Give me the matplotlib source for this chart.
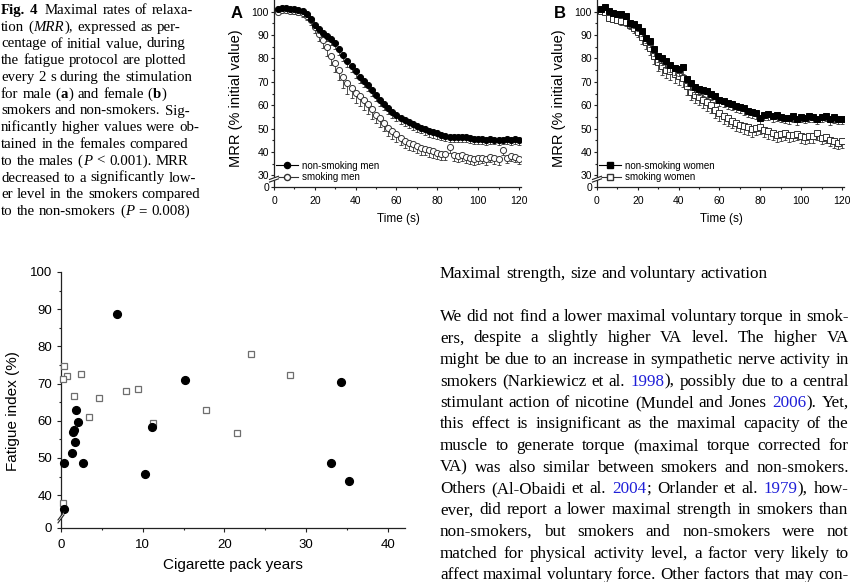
import re
import numpy as np
import matplotlib
matplotlib.use("Agg")
import matplotlib.pyplot as plt
from matplotlib.lines import Line2D
from matplotlib.patches import Polygon
from matplotlib.transforms import IdentityTransform

SANS = "Liberation Sans"
SERIF = "Liberation Serif"
BLUE = "#1f1fd8"
plt.rcParams["font.family"] = [SANS, "DejaVu Sans"]

# ---- Fig. 4 data: MRR (% initial value), sampled every 2 s ----
time_s = list(range(2, 121, 2))

mrr_nonsmoking_men = [
    101.0, 101.5, 101.5, 101.2, 101.0, 100.8, 100.5, 99.0, 97.0, 94.5,
    92.5, 91.0, 89.5, 88.2, 86.5, 84.0, 81.5, 79.0, 76.8, 74.5,
    72.2, 70.5, 68.8, 66.7, 64.3, 62.4, 60.6, 58.9, 57.2, 55.8,
    54.6, 53.6, 52.7, 51.8, 51.0, 50.3, 49.6, 48.9, 48.4, 47.9,
    47.4, 47.0, 46.6, 46.5, 46.5, 46.3, 46.4, 46.0, 45.5, 45.4,
    45.7, 45.2, 45.6, 45.3, 45.1, 45.2, 45.4, 45.0, 45.5, 45.0]
err_nonsmoking_men = [
    0.4, 0.5, 0.6, 0.7, 0.8, 0.9, 1.0, 1.2, 1.4, 1.6,
    1.8, 2.0, 2.2, 2.4, 2.5, 2.6, 2.7, 2.8, 2.8, 2.8,
    2.8, 2.8, 2.8, 2.8, 2.7, 2.7, 2.7, 2.6, 2.6, 2.6,
    2.5, 2.5, 2.5, 2.5, 2.4, 2.4, 2.4, 2.4, 2.3, 2.3,
    2.3, 2.3, 2.2, 2.2, 2.2, 2.2, 2.2, 2.1, 2.1, 2.1,
    2.1, 2.1, 2.1, 2.0, 2.0, 2.0, 2.0, 2.0, 2.0, 2.0]
mrr_smoking_men = [
    99.8, 100.6, 100.8, 100.5, 100.2, 99.8, 99.3, 98.3, 96.5, 93.5,
    90.5, 88.0, 85.0, 81.0, 78.2, 75.0, 72.0, 69.5, 67.4, 65.2,
    63.8, 62.1, 60.3, 58.2, 56.0, 54.5, 52.4, 50.4, 48.9, 47.5,
    46.1, 44.8, 44.0, 43.2, 42.5, 41.8, 41.4, 40.8, 40.3, 39.7,
    39.3, 39.0, 42.3, 38.6, 38.3, 38.5, 37.8, 37.2, 36.8, 37.3,
    37.6, 37.0, 37.9, 37.2, 36.8, 40.8, 37.5, 38.2, 37.8, 37.0]
err_smoking_men = [
    0.5, 0.6, 0.8, 1.0, 1.2, 1.4, 1.6, 1.8, 2.2, 2.6,
    3.0, 3.4, 3.8, 4.0, 4.2, 4.4, 4.5, 4.5, 4.5, 4.4,
    4.3, 4.2, 4.0, 3.9, 3.8, 3.7, 3.6, 3.5, 3.4, 3.3,
    3.2, 3.1, 3.0, 3.0, 2.9, 2.9, 2.8, 2.8, 2.7, 2.7,
    2.7, 2.6, 2.6, 2.6, 2.5, 2.5, 2.5, 2.5, 2.4, 2.4,
    2.4, 2.4, 2.3, 2.3, 2.3, 2.3, 2.3, 2.2, 2.2, 2.2]
mrr_nonsmoking_women = [
    101.0, 102.0, 100.2, 99.5, 99.0, 98.8, 98.3, 95.2, 94.9, 93.6,
    91.6, 88.8, 87.3, 84.0, 81.2, 80.4, 78.8, 77.3, 76.0, 75.5,
    76.2, 71.0, 69.5, 67.6, 67.0, 66.7, 65.9, 65.0, 63.8, 62.3,
    62.0, 61.0, 60.6, 59.8, 59.2, 58.6, 57.5, 57.0, 56.7, 54.5,
    56.0, 56.1, 55.4, 55.6, 55.0, 54.7, 54.4, 55.2, 54.0, 55.0,
    54.6, 55.3, 55.0, 54.3, 55.0, 55.4, 54.0, 54.8, 54.3, 54.2]
err_nonsmoking_women = [
    0.4, 0.5, 0.7, 0.9, 1.0, 1.2, 1.4, 1.6, 1.8, 2.0,
    2.2, 2.4, 2.6, 2.8, 2.9, 3.0, 3.0, 3.0, 3.0, 3.0,
    3.0, 2.9, 2.9, 2.9, 2.8, 2.8, 2.8, 2.7, 2.7, 2.7,
    2.7, 2.6, 2.6, 2.6, 2.6, 2.6, 2.5, 2.5, 2.5, 2.5,
    2.5, 2.5, 2.5, 2.4, 2.4, 2.4, 2.4, 2.4, 2.4, 2.4,
    2.4, 2.4, 2.4, 2.3, 2.3, 2.3, 2.3, 2.3, 2.3, 2.3]
mrr_smoking_women = [
    100.2, 100.0, 97.4, 97.0, 96.6, 96.0, 95.4, 94.5, 93.0, 91.5,
    89.0, 87.0, 84.5, 81.0, 78.3, 76.6, 75.2, 74.5, 73.2, 72.5,
    71.6, 68.0, 65.8, 64.5, 63.6, 62.4, 61.2, 60.0, 58.0, 56.6,
    55.3, 54.4, 53.4, 52.3, 51.6, 51.0, 50.5, 49.6, 50.3, 50.6,
    49.5, 48.8, 48.0, 47.4, 47.6, 48.0, 47.3, 47.4, 47.8, 46.7,
    46.3, 46.7, 46.8, 48.1, 46.0, 46.6, 45.3, 44.6, 43.9, 44.6]
err_smoking_women = [
    0.5, 0.7, 0.9, 1.1, 1.3, 1.5, 1.7, 1.9, 2.2, 2.5,
    2.8, 3.0, 3.2, 3.4, 3.5, 3.6, 3.7, 3.7, 3.7, 3.7,
    3.7, 3.7, 3.6, 3.6, 3.6, 3.5, 3.5, 3.5, 3.4, 3.4,
    3.4, 3.3, 3.3, 3.3, 3.2, 3.2, 3.2, 3.2, 3.1, 3.1,
    3.1, 3.1, 3.0, 3.0, 3.0, 3.0, 3.0, 2.9, 2.9, 2.9,
    2.9, 2.9, 2.9, 2.8, 2.8, 2.8, 2.8, 2.8, 2.8, 2.8]

# ---- fatigue index vs cigarette pack years ----
filled_pack_years = [6.9, 15.2, 34.3, 1.8, 2.1, 1.6, 1.5, 1.7, 1.3, 0.4, 2.7, 10.3, 11.1, 33.1, 35.3, 0.4]
filled_fatigue = [88.7, 70.9, 70.4, 62.8, 59.7, 57.6, 57.0, 54.2, 51.2, 48.6, 48.5, 45.8, 58.3, 48.5, 43.9, 36.3]
open_pack_years = [0.4, 0.7, 0.3, 2.5, 1.6, 4.6, 3.4, 7.9, 9.4, 11.3, 17.8, 21.5, 23.2, 28.0, 0.3]
open_fatigue = [74.7, 72.0, 71.2, 72.7, 66.6, 66.2, 61.1, 68.0, 68.4, 59.5, 62.8, 56.8, 77.9, 72.2, 37.8]

# ticks (broken axes: lowest tick stands for 0)
top_yticks = [25, 30, 40, 50, 60, 70, 80, 90, 100]
top_ylabels = ["0", "30", "40", "50", "60", "70", "80", "90", "100"]
top_yminor = [35, 45, 55, 65, 75, 85, 95]
top_xticks = [0, 20, 40, 60, 80, 100, 120]
top_xminor = [10, 30, 50, 70, 90, 110]
bot_yticks = [31.15, 40, 50, 60, 70, 80, 90, 100]
bot_ylabels = ["0", "40", "50", "60", "70", "80", "90", "100"]
bot_yminor = [45, 55, 65, 75, 85, 95]
bot_xticks = [0, 10, 20, 30, 40]
bot_xminor = [5, 15, 25, 35]

CAPTION = [
    "*Fig.* *4*  Maximal rates of relaxa-",
    "tion (_MRR_), expressed as per-",
    "centage of initial value, during",
    "the fatigue protocol are plotted",
    "every 2 s during the stimulation",
    "for male (*a*) and female (*b*)",
    "smokers and non-smokers. Sig-",
    "nificantly higher values were ob-",
    "tained in the females compared",
    "to the males (_P_ < 0.001). MRR",
    "decreased to a significantly low-",
    "er level in the smokers compared",
    "to the non-smokers (_P_ = 0.008)",
]
HEADING = "Maximal strength, size and voluntary activation"
PARAGRAPH = [
    "We did not find a lower maximal voluntary torque in smok-",
    "ers, despite a slightly higher VA level. The higher VA",
    "might be due to an increase in sympathetic nerve activity in",
    "smokers (Narkiewicz et al. {1998}), possibly due to a central",
    "stimulant action of nicotine (Mundel and Jones {2006}). Yet,",
    "this effect is insignificant as the maximal capacity of the",
    "muscle to generate torque (maximal torque corrected for",
    "VA) was also similar between smokers and non-smokers.",
    "Others (Al-Obaidi et al. {2004}; Orlander et al. {1979}), how-",
    "ever, did report a lower maximal strength in smokers than",
    "non-smokers, but smokers and non-smokers were not",
    "matched for physical activity level, a factor very likely to",
    "affect maximal voluntary force. Other factors that may con-",
]

W, H = 850, 582
fig = plt.figure(figsize=(W / 100, H / 100), dpi=100)
renderer = fig.canvas.get_renderer()
AX_C = "#222222"


def ax_px(left, top, width, height):
    return fig.add_axes([left / W, 1 - (top + height) / H, width / W, height / H])


def style(ax, fs, tick_len, pad_x, pad_y):
    for s in ("top", "right"):
        ax.spines[s].set_visible(False)
    for s in ("left", "bottom"):
        ax.spines[s].set_linewidth(0.9)
        ax.spines[s].set_color(AX_C)
    ax.tick_params(which="both", direction="out", labelsize=fs, width=0.8, color=AX_C)
    ax.tick_params(which="major", length=tick_len)
    ax.tick_params(which="minor", length=tick_len * 0.6)
    ax.tick_params(axis="x", pad=pad_x)
    ax.tick_params(axis="y", pad=pad_y)


def axis_break(ax, yval, dx, dy, gap):
    cx, cy = ax.transData.transform((ax.get_xlim()[0], yval))
    idt = IdentityTransform()
    poly = Polygon([(cx - dx, cy - dy), (cx + dx, cy + dy), (cx + dx, cy + dy + gap), (cx - dx, cy - dy + gap)],
                   closed=True, fc="white", ec="none", transform=idt, zorder=20)
    fig.add_artist(poly)
    for off in (0, gap):
        fig.add_artist(Line2D([cx - dx, cx + dx], [cy - dy + off, cy + dy + off], color=AX_C, lw=0.8,
                              transform=idt, zorder=21))


def series(ax, t, vals, err, marker, filled, z):
    t = np.asarray(t); v = np.asarray(vals); e = np.asarray(err)
    ax.vlines(t, v - e, v, colors="#333333", lw=0.6, zorder=z - 0.5)
    ax.plot(t, v - e, ls="none", marker="_", ms=3.2, mew=0.6, color="#333333", zorder=z - 0.5)
    ax.plot(t, v, ls="none", marker=marker, ms=4.4, mfc="black" if filled else "white",
            mec="black" if filled else "#333333", mew=0.7, zorder=z)


def mrr_panel(left, letter, data, marker, labels):
    ax = ax_px(left, 0, 247, 187)
    ax.set_xlim(0, 121)
    ax.set_ylim(25, 105)
    style(ax, 7.5, 2.4, 4.0, 1.2)
    ax.set_xticks(top_xticks)
    ax.set_xticks(top_xminor, minor=True)
    ax.set_yticks(top_yticks, top_ylabels)
    ax.set_yticks(top_yminor, minor=True)
    (ns, ns_err), (sm, sm_err) = data
    series(ax, time_s, sm, sm_err, marker, False, 3)
    series(ax, time_s, ns, ns_err, marker, True, 4)
    handles = [Line2D([], [], color="black", lw=0.8, marker=marker, ms=4.4, mfc="black", mec="black"),
               Line2D([], [], color="#333333", lw=0.8, marker=marker, ms=4.4, mfc="white", mec="#333333")]
    ax.legend(handles, labels, loc="lower left", bbox_to_anchor=(0.008, 0.026), frameon=False,
              fontsize=7, handlelength=2.3, handletextpad=0.4, labelspacing=0.15,
              borderpad=0, borderaxespad=0, numpoints=1)
    axis_break(ax, 27.8, 4.5, 1.6, 2.6)
    fig.text((left - 37) / W, 1 - 13 / H, letter, fontsize=12, fontweight="bold",
             ha="center", va="center")
    fig.text((left - 38) / W, 1 - 98 / H, "MRR (% initial value)", rotation=90,
             fontsize=10.5, ha="center", va="center")
    fig.text((left + 124) / W, 1 - 219 / H, "Time (s)", fontsize=8.5, ha="center", va="center")
    return ax


mrr_panel(274, "A", [(mrr_nonsmoking_men, err_nonsmoking_men), (mrr_smoking_men, err_smoking_men)],
          "o", ["non-smoking men", "smoking men"])
mrr_panel(597, "B", [(mrr_nonsmoking_women, err_nonsmoking_women), (mrr_smoking_women, err_smoking_women)],
          "s", ["non-smoking women", "smoking women"])

# scatter panel
ax3 = ax_px(61, 272, 344, 256)
ax3.set_xlim(0, 42.1)
ax3.set_ylim(31.15, 100)
style(ax3, 9.5, 3.0, 5.0, 3.5)
ax3.set_xticks(bot_xticks)
ax3.set_xticks(bot_xminor, minor=True)
ax3.set_yticks(bot_yticks, bot_ylabels)
ax3.set_yticks(bot_yminor, minor=True)
ax3.plot(open_pack_years, open_fatigue, ls="none", marker="s", ms=5.0, mfc="white", mec="#6e6e6e",
         mew=0.9, zorder=3, clip_on=False)
ax3.plot(filled_pack_years, filled_fatigue, ls="none", marker="o", ms=5.6, color="black", zorder=4,
         clip_on=False)
axis_break(ax3, 33.6, 3.0, 4.0, 3.0)
fig.text(13 / W, 1 - 411 / H, "Fatigue index (%)", rotation=90, fontsize=11, ha="center", va="center")
fig.text(233 / W, 1 - 565 / H, "Cigarette pack years", fontsize=11, ha="center", va="center")


# ---- page text ----
def parse_word(word):
    segs = []
    for part in re.split(r"(\*[^*]+\*|_[^_]+_|\{[^}]+\})", word):
        if not part:
            continue
        if part[0] == "*":
            segs.append((part[1:-1], "bold", "normal", "black"))
        elif part[0] == "_":
            segs.append((part[1:-1], "normal", "italic", "black"))
        elif part[0] == "{":
            segs.append((part[1:-1], "normal", "normal", BLUE))
        else:
            segs.append((part, "normal", "normal", "black"))
    return segs


def make_text(s, size, weight="normal", fstyle="normal", color="black", x=0, y=0):
    return fig.text(x / W, 1 - y / H, s, fontsize=size, family=[SERIF, "DejaVu Serif"],
                    fontweight=weight, fontstyle=fstyle, color=color, ha="left", va="baseline")


def seg_width(s, size, weight="normal", fstyle="normal"):
    t = make_text(s, size, weight, fstyle)
    w = t.get_window_extent(renderer).width
    t.remove()
    return w


def fit_size(text, target_px):
    return 10 * target_px / seg_width(text, 10)


def draw_line(text, x0, y, size, width=None):
    words = [parse_word(w) for w in text.split(" ")]
    widths = [sum(seg_width(s, size, wt, st) + 0.4 for s, wt, st, c in segs) for segs in words]
    gap = seg_width("x x", size) - seg_width("xx", size)
    if width is not None and len(words) > 1:
        gap = (width - sum(widths)) / (len(words) - 1)
    x = x0
    for segs, ww in zip(words, widths):
        for s, wt, st, c in segs:
            make_text(s, size, wt, st, c, x, y)
            x += seg_width(s, size, wt, st) + 0.4
        x += gap


cap_size = fit_size("the fatigue protocol are plotted", 184)
for i, line in enumerate(CAPTION):
    draw_line(line, 1, 14 + i * 16.75, cap_size)

par_size = fit_size(HEADING, 327)
draw_line(HEADING, 440, 278, par_size)
for i, line in enumerate(PARAGRAPH):
    draw_line(line, 440, 321 + i * 21.5, par_size, width=409)

fig.savefig("out.png", dpi=100)
